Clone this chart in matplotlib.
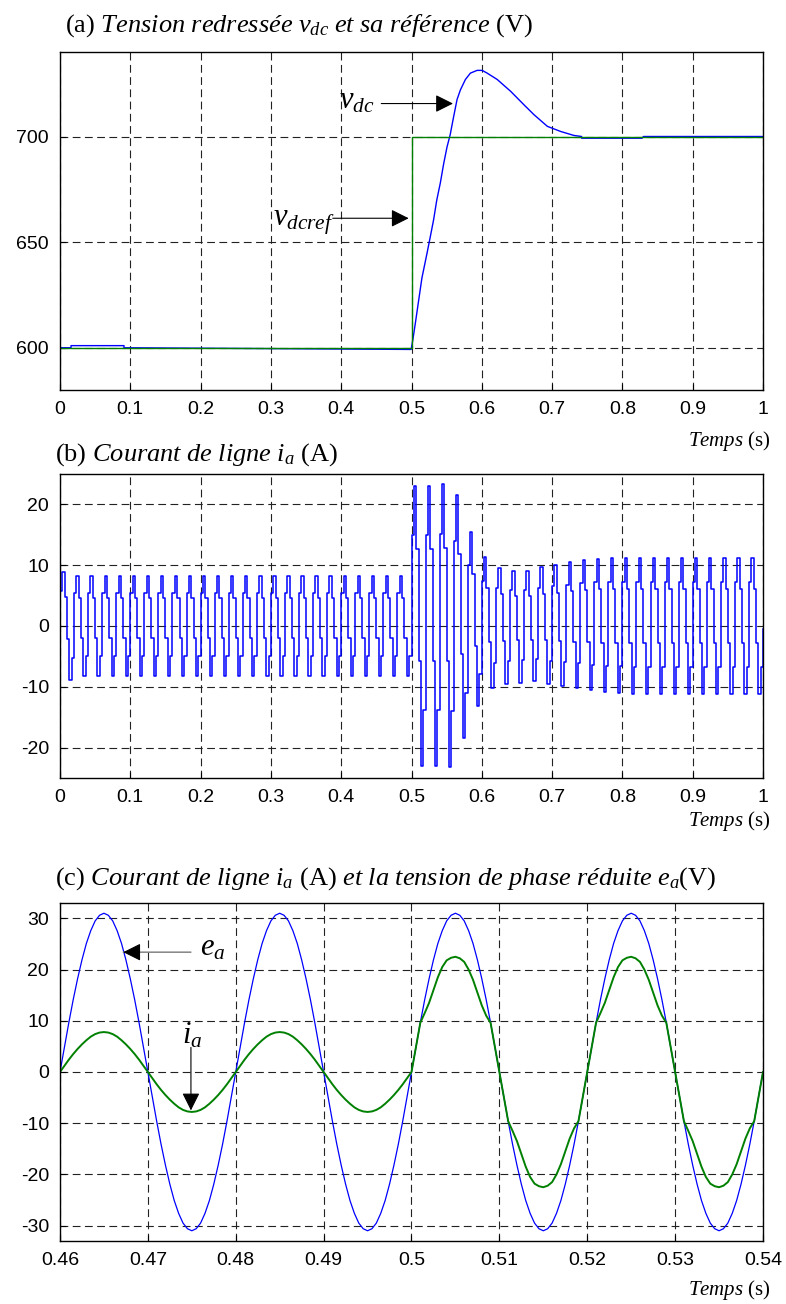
import numpy as np
import matplotlib
matplotlib.use('Agg')
import matplotlib.pyplot as plt

plt.rcParams['font.family'] = ['Liberation Sans', 'DejaVu Sans']
plt.rcParams['mathtext.fontset'] = 'custom'
plt.rcParams['mathtext.rm'] = 'Liberation Serif'
plt.rcParams['mathtext.it'] = 'Liberation Serif:italic'
plt.rcParams['mathtext.bf'] = 'Liberation Serif:bold'
plt.rcParams['axes.unicode_minus'] = False

# (a) dc bus voltage and its reference
t_ref = [0.0, 0.5, 0.5, 1.0]
v_ref = [600, 600, 700, 700]
t_vdc = [0.0, 0.0157, 0.0157, 0.091, 0.091, 0.4995, 0.502, 0.5052, 0.510, 0.5148,
         0.522, 0.5267, 0.5314, 0.536, 0.541, 0.5457, 0.5505, 0.555, 0.560, 0.5648,
         0.5695, 0.5767, 0.5838, 0.5933, 0.6005, 0.6076, 0.6219, 0.641, 0.660, 0.6743,
         0.6933, 0.712, 0.731, 0.742, 0.742, 0.828, 0.83, 1.0]
v_dc = [600, 600, 601, 601, 600, 599.2, 604, 611, 622, 633,
        644.6, 652.5, 660.5, 670, 678, 687, 695, 700.8, 709.5, 717.5,
        722, 727, 730, 731.3, 731.3, 730, 727, 721.4, 715, 710.3,
        704.8, 702.4, 700.5, 700, 699.2, 699.2, 700, 700]

# (b) line current, one cycle = 6 held levels, peaks per 20 ms cycle
cycle_shape = [0.65, 1.0, 0.55, -0.25, -1.0, -0.6]
pos_peaks = [8.8] + [8.3] * 24 + [23.0, 23.0, 23.3, 21.5, 15.5, 11.4, 9.6, 9.0, 9.1, 9.7,
                                  10.0, 10.5, 10.9, 11.1, 11.2] + [11.2] * 10
neg_peaks = [-8.8] + [-8.2] * 24 + [-23.0, -23.0, -23.2, -18.5, -13.2, -10.2, -9.6, -9.3,
                                    -9.0, -9.5, -9.8, -10.2, -10.6, -10.9, -11.1] + [-11.2] * 10

# (c) zoom 0.46-0.54 s, samples every 0.5 ms over one half period
e_half = [0, 4.8, 9.6, 14.1, 18.2, 21.9, 25.1, 27.6, 29.5, 30.6,
          31.0, 30.6, 29.5, 27.6, 25.1, 21.9, 18.2, 14.1, 9.6, 4.8]
ia_low_half = [0, 1.2, 2.4, 3.5, 4.5, 5.4, 6.2, 6.9, 7.4, 7.7,
               7.8, 7.7, 7.4, 6.9, 6.2, 5.4, 4.5, 3.5, 2.4, 1.2]
ia_high_half = [0, 4.8, 9.6, 11.5, 13.5, 16.0, 18.5, 20.5, 21.8, 22.3,
                22.5, 22.2, 21.5, 20.0, 18.0, 15.5, 13.0, 11.0, 9.6, 4.8]

x_ticks_a = [0, 0.1, 0.2, 0.3, 0.4, 0.5, 0.6, 0.7, 0.8, 0.9, 1]
x_labels_a = ['0', '0.1', '0.2', '0.3', '0.4', '0.5', '0.6', '0.7', '0.8', '0.9', '1']
x_ticks_c = [0.46, 0.47, 0.48, 0.49, 0.5, 0.51, 0.52, 0.53, 0.54]
x_labels_c = ['0.46', '0.47', '0.48', '0.49', '0.5', '0.51', '0.52', '0.53', '0.54']

BLUE = '#0000ff'
GREEN = '#008000'
W, H = 786, 1304
TITLE_FS = 19


def make_axes(fig, top, bottom, left=60, right=763):
    return fig.add_axes([left / W, 1 - bottom / H, (right - left) / W, (bottom - top) / H])


def style(ax):
    ax.grid(True, color='#222222', linestyle=(0, (7, 4)), linewidth=0.8)
    ax.tick_params(direction='in', length=4, labelsize=14, pad=8, width=0.8)
    for s in ax.spines.values():
        s.set_linewidth(1.0)


def arrow(ax, head, tail, color='k', ms=18):
    ax.annotate('', xy=head, xytext=tail,
                arrowprops=dict(arrowstyle='-|>,head_length=0.6,head_width=0.3',
                                color=color, lw=0.8, mutation_scale=ms,
                                shrinkA=0, shrinkB=0))


fig = plt.figure(figsize=(W / 100, H / 100), dpi=100)

# ---- (a)
ax = make_axes(fig, 52, 390)
ax.plot(t_vdc, v_dc, color=BLUE, lw=1.0)
ax.plot(t_ref, v_ref, color=GREEN, lw=1.0)
ax.set_xlim(0, 1)
ax.set_ylim(580, 740)
ax.set_xticks(x_ticks_a, x_labels_a)
ax.set_yticks([600, 650, 700])
style(ax)
ax.text(0.397, 713.2, r'$v_{dc}$', fontsize=22)
arrow(ax, (0.559, 715.6), (0.457, 715.6))
ax.text(0.303, 658, r'$v_{dcref}$', fontsize=22)
arrow(ax, (0.496, 661.3), (0.388, 661.3))

fig.text(65 / W, 1 - 32 / H, r'(a) $\mathit{Tension\ redressée\ v_{dc}\ et\ sa\ référence}$ (V)',
         fontsize=TITLE_FS, family='Liberation Serif', va='baseline')
fig.text(771 / W, 1 - 446 / H, r'$\mathit{Temps}$ (s)', fontsize=15,
         family='Liberation Serif', ha='right', va='baseline')

# ---- (b)
step = 0.02 / len(cycle_shape)
shape = np.tile(cycle_shape, len(pos_peaks))
pk = np.repeat(pos_peaks, len(cycle_shape))
nk = np.repeat(neg_peaks, len(cycle_shape))
i_b = np.where(shape > 0, shape * pk, -shape * nk)
i_b = np.append(i_b, -0.5)
t_b = np.arange(len(i_b)) * step

ax = make_axes(fig, 474, 778)
ax.step(t_b, i_b, where='post', color=BLUE, lw=1.1)
ax.set_xlim(0, 1)
ax.set_ylim(-25, 25)
ax.set_xticks(x_ticks_a, x_labels_a)
ax.set_yticks([-20, -10, 0, 10, 20])
style(ax)
fig.text(55 / W, 1 - 461 / H, r'(b) $\mathit{Courant\ de\ ligne\ i_a}$ (A)',
         fontsize=TITLE_FS, family='Liberation Serif', va='baseline')
fig.text(771 / W, 1 - 826 / H, r'$\mathit{Temps}$ (s)', fontsize=15,
         family='Liberation Serif', ha='right', va='baseline')

# ---- (c)
e_half = np.array(e_half)
lo = np.array(ia_low_half)
hi = np.array(ia_high_half)
e_a = np.concatenate([e_half, -e_half] * 4 + [[0.0]])
i_a = np.concatenate([lo, -lo, lo, -lo, hi, -hi, hi, -hi, [0.0]])
t_c = 0.46 + np.arange(len(e_a)) * 0.0005

ax = make_axes(fig, 903, 1241)
ax.plot(t_c, e_a, color=BLUE, lw=0.9)
ax.plot(t_c, i_a, color=GREEN, lw=1.4)
ax.set_xlim(0.46, 0.54)
ax.set_ylim(-33, 33)
ax.set_xticks(x_ticks_c, x_labels_c)
ax.set_yticks([-30, -20, -10, 0, 10, 20, 30])
style(ax)
ax.text(0.4759, 22.8, r'$e_a$', fontsize=22)
ax.annotate('', xy=(0.4672, 23.4), xytext=(0.4749, 23.4),
            arrowprops=dict(arrowstyle='-', color='#777777', lw=1.0, shrinkA=0, shrinkB=0))
arrow(ax, (0.4672, 23.4), (0.4690, 23.4))
ax.text(0.4739, 5.6, r'$i_a$', fontsize=22)
arrow(ax, (0.4749, -7.5), (0.4749, 4.8))

fig.text(55 / W, 1 - 885 / H,
         r'(c) $\mathit{Courant\ de\ ligne\ i_a}$ (A) $\mathit{et\ la\ tension\ de\ phase\ réduite\ e_a}$(V)',
         fontsize=TITLE_FS, family='Liberation Serif', va='baseline')
fig.text(771 / W, 1 - 1295 / H, r'$\mathit{Temps}$ (s)', fontsize=15,
         family='Liberation Serif', ha='right', va='baseline')

fig.savefig('out.png', dpi=100)
